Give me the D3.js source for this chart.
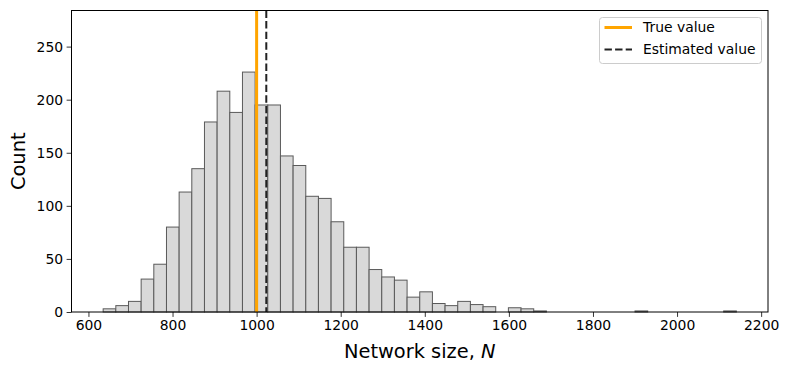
<!DOCTYPE html>
<html>
<head>
<meta charset="utf-8">
<script src="https://cdn.jsdelivr.net/npm/d3@7"></script>
<style>
  body { margin: 0; background: #fff; }
  text { font-family: "DejaVu Sans", sans-serif; fill: #000; }
</style>
</head>
<body>
<div id="chart"></div>
<script>
// histogram of estimated network sizes, 50 bins
const binMin = 635;
const binMax = 2141;
const nBins = 50;
const counts = [3, 6, 10, 31, 45, 80, 113, 135, 179, 208,
                188, 226, 195, 195, 147, 138, 109, 107, 85, 61,
                61, 40, 33, 30, 14, 19, 8, 6, 10, 7,
                5, 0, 4, 3, 1, 0, 0, 0, 0, 0,
                0, 0, 1, 0, 0, 0, 0, 0, 0, 1];
const trueValue = 1000;
const estimatedValue = 1023;
const xTicks = [600, 800, 1000, 1200, 1400, 1600, 1800, 2000, 2200];
const yTicks = [0, 50, 100, 150, 200, 250];
const legendLabels = ["True value", "Estimated value"];

const width = 788, height = 372;
const margin = {left: 71.5, right: 20, top: 10.5, bottom: 60};
const plotW = width - margin.left - margin.right;
const plotH = height - margin.top - margin.bottom;

const binW = (binMax - binMin) / nBins;
const bins = counts.map((c, i) => ({x0: binMin + i * binW, x1: binMin + (i + 1) * binW, count: c}));

const pad = 0.05 * (binMax - binMin);
const x = d3.scaleLinear().domain([binMin - pad, binMax + pad]).range([0, plotW]);
const y = d3.scaleLinear().domain([0, 284]).range([plotH, 0]);

const svg = d3.select("#chart").append("svg")
  .attr("width", width)
  .attr("height", height);

const g = svg.append("g").attr("transform", `translate(${margin.left},${margin.top})`);

// bars
g.append("g")
  .selectAll("rect")
  .data(bins.filter(d => d.count > 0))
  .enter()
  .append("rect")
  .attr("x", d => x(d.x0))
  .attr("y", d => y(d.count))
  .attr("width", d => x(d.x1) - x(d.x0))
  .attr("height", d => plotH - y(d.count))
  .attr("fill", "#d9d9d9")
  .attr("stroke", "#5a5a5a")
  .attr("stroke-width", 1);

// reference lines
g.append("line")
  .attr("x1", x(trueValue)).attr("x2", x(trueValue))
  .attr("y1", 0).attr("y2", plotH)
  .attr("stroke", "orange").attr("stroke-width", 3);

g.append("line")
  .attr("x1", x(estimatedValue)).attr("x2", x(estimatedValue))
  .attr("y1", 0).attr("y2", plotH)
  .attr("stroke", "#222").attr("stroke-width", 2)
  .attr("stroke-dasharray", "7.4,3.2");

// axes
const xAxis = g.append("g")
  .attr("transform", `translate(0,${plotH})`)
  .call(d3.axisBottom(x).tickValues(xTicks).tickSize(4.9).tickPadding(3.5).tickFormat(d3.format("d")));
const yAxis = g.append("g")
  .call(d3.axisLeft(y).tickValues(yTicks).tickSize(4.9).tickPadding(3.5));

[xAxis, yAxis].forEach(a => {
  a.select(".domain").remove();
  a.selectAll("text").attr("font-size", "13.9px").attr("font-family", "DejaVu Sans").attr("fill", "#000");
  a.selectAll("line").attr("stroke", "#000").attr("stroke-width", 0.8);
});

// frame
g.append("rect")
  .attr("x", 0).attr("y", 0)
  .attr("width", plotW).attr("height", plotH)
  .attr("fill", "none").attr("stroke", "#000").attr("stroke-width", 1);

// axis labels
const xl = svg.append("text")
  .attr("x", margin.left + plotW / 2)
  .attr("y", 358)
  .attr("text-anchor", "middle")
  .attr("font-size", "19.4px");
xl.append("tspan").text("Network size, ");
xl.append("tspan").attr("font-style", "italic").text("N");

svg.append("text")
  .attr("transform", `translate(25,${margin.top + plotH / 2}) rotate(-90)`)
  .attr("text-anchor", "middle")
  .attr("font-size", "19.4px")
  .text("Count");

// legend
const lg = svg.append("g").attr("transform", "translate(599.5,17.5)");
lg.append("rect")
  .attr("width", 162).attr("height", 46)
  .attr("rx", 3)
  .attr("fill", "#fff").attr("fill-opacity", 0.8)
  .attr("stroke", "#ccc").attr("stroke-width", 1);

const legendStyles = [
  {color: "orange", w: 3, dash: null},
  {color: "#222", w: 2, dash: "7.4,3.2"}
];
legendLabels.forEach((label, i) => {
  const cy = 10 + i * 22;
  lg.append("line")
    .attr("x1", 5).attr("x2", 32.5)
    .attr("y1", cy).attr("y2", cy)
    .attr("stroke", legendStyles[i].color)
    .attr("stroke-width", legendStyles[i].w)
    .attr("stroke-dasharray", legendStyles[i].dash);
  lg.append("text")
    .attr("x", 43.5).attr("y", cy)
    .attr("dy", "0.35em")
    .attr("font-size", "13.9px")
    .text(label);
});
</script>
</body>
</html>
